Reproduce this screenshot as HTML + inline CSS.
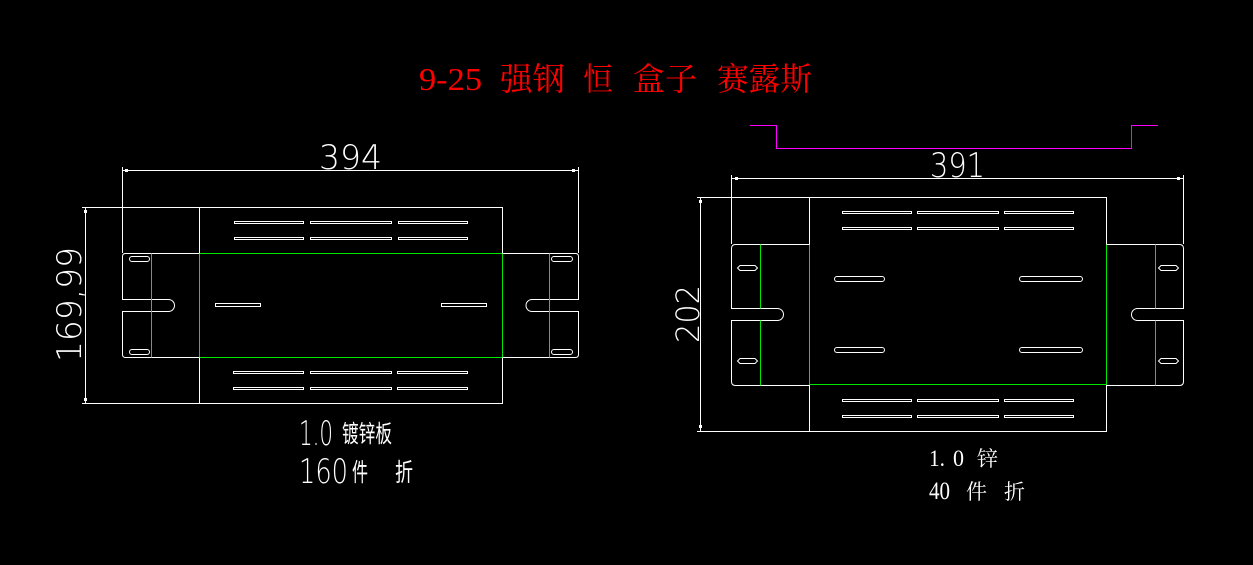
<!DOCTYPE html>
<html><head><meta charset="utf-8"><style>
html,body{margin:0;padding:0;background:#000;width:1253px;height:565px;overflow:hidden}
svg{display:block}
.w{stroke:#fff;fill:none;stroke-width:1}
.g{stroke:#00e800;fill:none;stroke-width:1}
.m{stroke:#ff00ff;fill:none;stroke-width:1}
.cad{font-family:"DejaVu Sans ExtraLight","DejaVu Sans","Liberation Sans",sans-serif;font-weight:200;fill:#fff}
.cjk{font-family:"Liberation Sans","Noto Sans CJK SC",sans-serif;fill:#fff}
.ser{font-family:"Liberation Serif","Noto Serif CJK SC",serif;fill:#fff}
.t{font-family:"Liberation Serif","Noto Serif CJK SC",serif;fill:#ff0000}
</style></head><body>
<svg width="1253" height="565" viewBox="0 0 1253 565" xmlns="http://www.w3.org/2000/svg">
<rect width="1253" height="565" fill="#000"/>

<!-- Title -->
<text class="t" x="419" y="90" font-size="32" textLength="63" lengthAdjust="spacingAndGlyphs">9-25</text>
<text class="t" x="500" y="90" font-size="32" textLength="65" lengthAdjust="spacingAndGlyphs">强钢</text>
<text class="t" x="583" y="90" font-size="32" textLength="30" lengthAdjust="spacingAndGlyphs">恒</text>
<text class="t" x="633" y="90" font-size="32" textLength="64" lengthAdjust="spacingAndGlyphs">盒子</text>
<text class="t" x="717" y="90" font-size="32" textLength="95" lengthAdjust="spacingAndGlyphs">赛露斯</text>

<g shape-rendering="crispEdges">
<!-- LEFT DRAWING -->
<path class="w" d="M122.5,170.5 H578.5 M122.5,167 V253 M578.5,167 V253"/>
<rect x="125" y="169" width="3" height="3" fill="#fff"/>
<rect x="572" y="169" width="3" height="3" fill="#fff"/>
<path class="w" d="M85.5,207.5 V403.5 M82,207.5 H199 M82,403.5 H199"/>
<rect x="84" y="210" width="3" height="3" fill="#fff"/>
<rect x="84" y="398" width="3" height="3" fill="#fff"/>

<path class="w" d="M199.5,253.5 V207.5 H502.5 V253.5 M199.5,357.5 V403.5 H502.5 V357.5"/>
<rect class="g" x="199.5" y="253.5" width="303" height="104"/>
<g class="w">
<rect x="234.5" y="221.5" width="69" height="2"/>
<rect x="310.5" y="221.5" width="81" height="2"/>
<rect x="398.5" y="221.5" width="69" height="2"/>
<rect x="234.5" y="237.5" width="69" height="2"/>
<rect x="310.5" y="237.5" width="81" height="2"/>
<rect x="398.5" y="237.5" width="69" height="2"/>
<rect x="233.5" y="371.5" width="70" height="2"/>
<rect x="310.5" y="371.5" width="81" height="2"/>
<rect x="397.5" y="371.5" width="70" height="2"/>
<rect x="233.5" y="387.5" width="70" height="2"/>
<rect x="310.5" y="387.5" width="81" height="2"/>
<rect x="397.5" y="387.5" width="70" height="2"/>
<rect x="215.5" y="303.5" width="45" height="3"/>
<rect x="441.5" y="303.5" width="45" height="3"/>
</g>
</g>
<path class="w" d="M199.5,253.5 H125.5 Q122.5,253.5 122.5,256.5 V299.5 H168.5 A6,6 0 0 1 168.5,311.5 H122.5 V354.5 Q122.5,357.5 125.5,357.5 H199.5"/>
<path class="g" d="M151.5,253.5 V357.5" shape-rendering="crispEdges"/>
<rect class="w" x="129.5" y="256.5" width="20" height="5" rx="2.5"/>
<rect class="w" x="129.5" y="349.5" width="20" height="5" rx="2.5"/>
<path class="w" d="M502.5,253.5 H575.5 Q578.5,253.5 578.5,256.5 V299.5 H532 A6,6 0 0 0 532,311.5 H578.5 V354.5 Q578.5,357.5 575.5,357.5 H502.5"/>
<path class="g" d="M549.5,253.5 V357.5" shape-rendering="crispEdges"/>
<rect class="w" x="551.5" y="256.5" width="21" height="5" rx="2.5"/>
<rect class="w" x="551.5" y="349.5" width="21" height="5" rx="2.5"/>

<text class="cad" x="319" y="169" font-size="34" textLength="63" lengthAdjust="spacingAndGlyphs">394</text>
<text class="cad" transform="translate(81,304.5) rotate(-90)" x="-57.5" y="0" font-size="34" textLength="115" lengthAdjust="spacingAndGlyphs">169,99</text>

<text class="cad" x="299" y="445" font-size="34" textLength="34" lengthAdjust="spacingAndGlyphs">1.0</text>
<text class="cjk" x="342" y="442" font-size="24" textLength="50" lengthAdjust="spacingAndGlyphs">镀锌板</text>
<text class="cad" x="299" y="483" font-size="34" textLength="49" lengthAdjust="spacingAndGlyphs">160</text>
<text class="cjk" x="352" y="481" font-size="25" textLength="16" lengthAdjust="spacingAndGlyphs">件</text>
<text class="cjk" x="395" y="481" font-size="25" textLength="18" lengthAdjust="spacingAndGlyphs">折</text>

<!-- RIGHT DRAWING -->
<path class="m" d="M750,125.5 H776.5 V148.5 H1131.5 V125.5 H1158" shape-rendering="crispEdges"/>
<g shape-rendering="crispEdges">
<path class="w" d="M731.5,178.5 H1183.5 M731.5,175 V244 M1183.5,175 V244"/>
<rect x="735" y="177" width="3" height="3" fill="#fff"/>
<rect x="1177" y="177" width="3" height="3" fill="#fff"/>
<path class="w" d="M700.5,197.5 V431.5 M697,197.5 H809 M697,431.5 H809"/>
<rect x="699" y="200" width="3" height="3" fill="#fff"/>
<rect x="699" y="425" width="3" height="3" fill="#fff"/>

<path class="w" d="M809.5,244.5 V197.5 H1106.5 V244.5 M809.5,384.5 V431.5 H1106.5 V384.5"/>
<path class="g" d="M809.5,244.5 V384.5 H1106.5 V244.5"/>
<g class="w">
<rect x="842.5" y="211.5" width="69" height="2"/>
<rect x="917.5" y="211.5" width="81" height="2"/>
<rect x="1004.5" y="211.5" width="69" height="2"/>
<rect x="842.5" y="227.5" width="69" height="2"/>
<rect x="917.5" y="227.5" width="81" height="2"/>
<rect x="1004.5" y="227.5" width="69" height="2"/>
<rect x="842.5" y="399.5" width="69" height="2"/>
<rect x="917.5" y="399.5" width="81" height="2"/>
<rect x="1004.5" y="399.5" width="69" height="2"/>
<rect x="842.5" y="415.5" width="69" height="2"/>
<rect x="917.5" y="415.5" width="81" height="2"/>
<rect x="1004.5" y="415.5" width="69" height="2"/>
</g>
</g>
<rect class="w" x="834.5" y="276.5" width="50" height="5" rx="2.5"/>
<rect class="w" x="834.5" y="347.5" width="50" height="5" rx="2.5"/>
<rect class="w" x="1019.5" y="276.5" width="63" height="5" rx="2.5"/>
<rect class="w" x="1019.5" y="347.5" width="63" height="5" rx="2.5"/>

<path class="w" d="M809.5,244.5 H735.5 Q731.5,244.5 731.5,248.5 V308.5 H777.5 A6,6 0 0 1 777.5,320.5 H731.5 V381.5 Q731.5,385.5 735.5,385.5 H809.5"/>
<path class="g" d="M760.5,244.5 V308.5 M760.5,320.5 V385.5" shape-rendering="crispEdges"/>
<path class="w" d="M740,265.5 H755 L757.5,268 L755,270.5 H740 L737.5,268 Z"/>
<path class="w" d="M740,358.5 H755 L757.5,361 L755,363.5 H740 L737.5,361 Z"/>
<path class="w" d="M1106.5,244.5 H1179.5 Q1183.5,244.5 1183.5,248.5 V308.5 H1137.5 A6,6 0 0 0 1137.5,320.5 H1183.5 V381.5 Q1183.5,385.5 1179.5,385.5 H1106.5"/>
<path class="g" d="M1155.5,244.5 V308.5 M1155.5,320.5 V385.5" shape-rendering="crispEdges"/>
<path class="w" d="M1161,265.5 H1176 L1178.5,268 L1176,270.5 H1161 L1158.5,268 Z"/>
<path class="w" d="M1161,358.5 H1176 L1178.5,361 L1176,363.5 H1161 L1158.5,361 Z"/>

<text class="cad" x="930" y="177" font-size="34" textLength="55" lengthAdjust="spacingAndGlyphs">391</text>
<text class="cad" transform="translate(699,314) rotate(-90)" x="-29" y="0" font-size="32" textLength="58" lengthAdjust="spacingAndGlyphs">202</text>

<!-- right notes -->
<text class="ser" x="929" y="466" font-size="23" textLength="16" lengthAdjust="spacingAndGlyphs">1.</text>
<text class="ser" x="953" y="466" font-size="23" textLength="11" lengthAdjust="spacingAndGlyphs">0</text>
<text class="ser" x="977" y="466" font-size="21">锌</text>
<text class="ser" x="929" y="499" font-size="25" textLength="21" lengthAdjust="spacingAndGlyphs">40</text>
<text class="ser" x="966" y="499" font-size="21">件</text>
<text class="ser" x="1004" y="499" font-size="21">折</text>
</svg>
</body></html>
